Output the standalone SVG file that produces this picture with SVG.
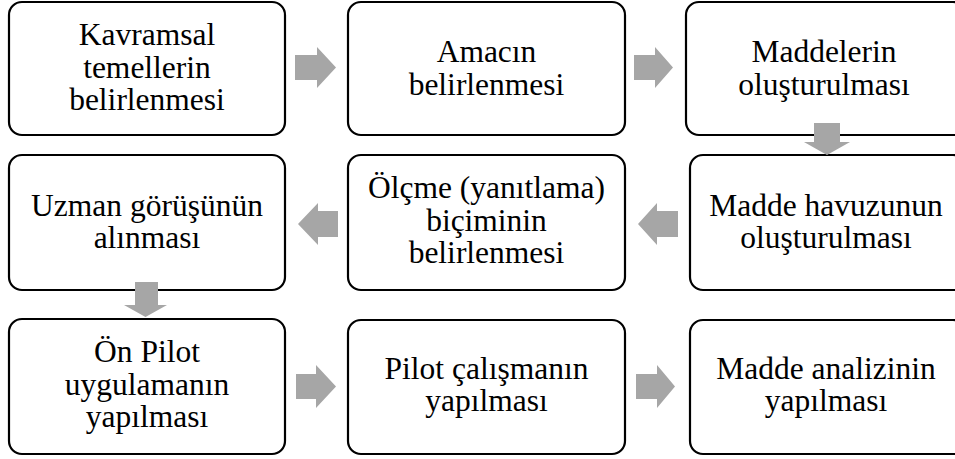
<svg xmlns="http://www.w3.org/2000/svg" width="955" height="459" viewBox="0 0 955 459">
<style>
.box{fill:#fff;stroke:#000;stroke-width:2.2}
.lbl{font-family:"Liberation Serif","Times New Roman",serif;font-size:31.5px;fill:#000;text-anchor:middle}
.arr{fill:#a6a6a6;stroke:none}
</style>
<rect width="955" height="459" fill="#fff"/>
<g id="n1"><rect class="box" x="9" y="2" width="276" height="133" rx="13"/>
<text class="lbl" x="147" y="45">Kavramsal</text><text class="lbl" x="147" y="78">temellerin</text><text class="lbl" x="147" y="110">belirlenmesi</text></g>
<g id="n2"><rect class="box" x="348" y="2" width="277" height="133" rx="13"/>
<text class="lbl" x="486.5" y="62">Amacın</text><text class="lbl" x="486.5" y="95">belirlenmesi</text></g>
<g id="n3"><rect class="box" x="686" y="2" width="280" height="133" rx="13"/>
<text class="lbl" x="824" y="62">Maddelerin</text><text class="lbl" x="824" y="95">oluşturulması</text></g>
<g id="n4"><rect class="box" x="690" y="155" width="276" height="135" rx="13"/>
<text class="lbl" x="826" y="216">Madde havuzunun</text><text class="lbl" x="826" y="248">oluşturulması</text></g>
<g id="n5"><rect class="box" x="348" y="155" width="277" height="135" rx="13"/>
<text class="lbl" x="486.5" y="198">Ölçme (yanıtlama)</text><text class="lbl" x="486.5" y="230.5">biçiminin</text><text class="lbl" x="486.5" y="263">belirlenmesi</text></g>
<g id="n6"><rect class="box" x="9" y="155" width="276" height="135" rx="13"/>
<text class="lbl" x="147" y="216">Uzman görüşünün</text><text class="lbl" x="147" y="248">alınması</text></g>
<g id="n7"><rect class="box" x="9" y="319" width="276" height="135" rx="13"/>
<text class="lbl" x="147" y="362">Ön Pilot</text><text class="lbl" x="147" y="394.5">uygulamanın</text><text class="lbl" x="147" y="427">yapılması</text></g>
<g id="n8"><rect class="box" x="348" y="320" width="277" height="134" rx="13"/>
<text class="lbl" x="486.5" y="379">Pilot çalışmanın</text><text class="lbl" x="486.5" y="411">yapılması</text></g>
<g id="n9"><rect class="box" x="690" y="320" width="276" height="134" rx="13"/>
<text class="lbl" x="826" y="379">Madde analizinin</text><text class="lbl" x="826" y="411">yapılması</text></g>
<g id="connectors">
<polygon class="arr" points="295,55 317,55 317,47 336,67.5 317,88 317,80 295,80"/>
<polygon class="arr" points="634,55 655,55 655,47 673,67.5 655,88 655,80 634,80"/>
<polygon class="arr" points="814,123 840,123 840,142 850,142 827,155 804,142 814,142"/>
<polygon class="arr" points="678,211 657,211 657,203 638,224 657,245 657,237 678,237"/>
<polygon class="arr" points="338,211 318,211 318,203 298,224 318,245 318,237 338,237"/>
<polygon class="arr" points="135,282 158,282 158,305 167,305 145.5,317 124,305 135,305"/>
<polygon class="arr" points="296,374 316,374 316,365 336,386.5 316,408 316,399 296,399"/>
<polygon class="arr" points="636,374 657,374 657,365 675,386.5 657,408 657,399 636,399"/>
</g>
</svg>
